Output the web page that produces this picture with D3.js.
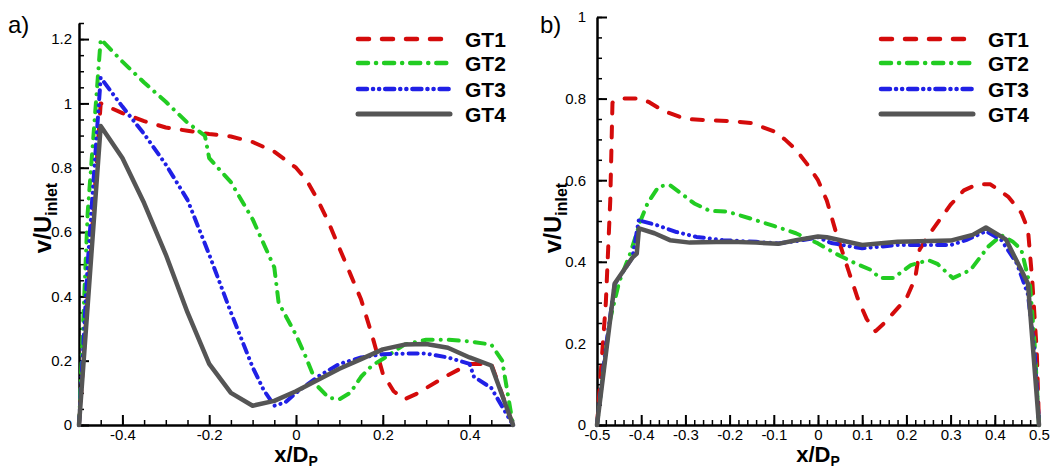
<!DOCTYPE html>
<html><head><meta charset="utf-8">
<script src="https://cdn.jsdelivr.net/npm/d3@7"></script>
<style>body{margin:0;background:#fff} svg{display:block} text{font-family:"Liberation Sans",Arial,sans-serif;fill:#000}</style>
</head><body><svg id="c" width="1057" height="468"></svg>
<script>
// ---------- data ----------
const seriesNames = ["GT1", "GT2", "GT3", "GT4"];
const panelLabels = ["a)", "b)"];

const xTicksA = [-0.4, -0.2, 0, 0.2, 0.4];
const yTicksA = [0, 0.2, 0.4, 0.6, 0.8, 1, 1.2];
const xTicksB = [-0.5, -0.4, -0.3, -0.2, -0.1, 0, 0.1, 0.2, 0.3, 0.4, 0.5];
const yTicksB = [0, 0.2, 0.4, 0.6, 0.8, 1];

// panel a  [x/Dp, v/Uinlet]
const a_GT1 = [[-0.5,0],[-0.45,1.0],[-0.4,0.97],[-0.35,0.945],[-0.3,0.925],[-0.25,0.915],[-0.2,0.905],[-0.15,0.897],[-0.1,0.88],[-0.05,0.85],[0,0.80],[0.025,0.76],[0.05,0.70],[0.075,0.63],[0.1,0.55],[0.125,0.47],[0.15,0.39],[0.175,0.28],[0.2,0.16],[0.225,0.105],[0.25,0.08],[0.275,0.095],[0.3,0.115],[0.35,0.155],[0.4,0.19],[0.45,0.19],[0.5,0]];
const a_GT2 = [[-0.5,0],[-0.48,0.66],[-0.45,1.2],[-0.4,1.13],[-0.35,1.065],[-0.3,1.005],[-0.25,0.94],[-0.21,0.9],[-0.2,0.83],[-0.15,0.755],[-0.1,0.64],[-0.05,0.49],[-0.04,0.38],[0,0.28],[0.02,0.22],[0.05,0.12],[0.075,0.085],[0.1,0.08],[0.125,0.1],[0.15,0.15],[0.175,0.185],[0.2,0.205],[0.25,0.25],[0.3,0.265],[0.35,0.265],[0.4,0.26],[0.45,0.25],[0.475,0.2],[0.5,0]];
const a_GT3 = [[-0.5,0],[-0.48,0.5],[-0.45,1.08],[-0.4,0.99],[-0.35,0.905],[-0.3,0.81],[-0.25,0.70],[-0.2,0.53],[-0.15,0.35],[-0.1,0.18],[-0.075,0.11],[-0.05,0.06],[-0.025,0.07],[0,0.10],[0.05,0.15],[0.1,0.19],[0.15,0.21],[0.2,0.22],[0.25,0.222],[0.3,0.222],[0.35,0.21],[0.4,0.19],[0.41,0.15],[0.45,0.115],[0.5,0]];
const a_GT4 = [[-0.5,0],[-0.45,0.93],[-0.4,0.83],[-0.35,0.69],[-0.3,0.53],[-0.25,0.35],[-0.2,0.19],[-0.15,0.10],[-0.1,0.06],[-0.05,0.075],[0,0.105],[0.05,0.14],[0.1,0.175],[0.15,0.205],[0.2,0.235],[0.25,0.25],[0.3,0.252],[0.35,0.24],[0.4,0.21],[0.45,0.185],[0.5,0]];

// panel b
const b_GT1 = [[-0.5,0],[-0.49,0.15],[-0.48,0.3],[-0.47,0.55],[-0.465,0.79],[-0.45,0.80],[-0.42,0.80],[-0.4,0.80],[-0.38,0.79],[-0.35,0.77],[-0.3,0.75],[-0.25,0.747],[-0.2,0.745],[-0.15,0.74],[-0.1,0.72],[-0.075,0.70],[-0.05,0.675],[-0.025,0.64],[0,0.60],[0.02,0.55],[0.04,0.475],[0.07,0.375],[0.09,0.31],[0.11,0.26],[0.13,0.23],[0.15,0.25],[0.2,0.31],[0.22,0.36],[0.23,0.43],[0.25,0.465],[0.3,0.54],[0.33,0.575],[0.36,0.59],[0.39,0.59],[0.43,0.56],[0.46,0.52],[0.475,0.48],[0.485,0.35],[0.495,0.18],[0.5,0]];
const b_GT2 = [[-0.5,0],[-0.485,0.14],[-0.47,0.26],[-0.45,0.35],[-0.425,0.42],[-0.4,0.505],[-0.385,0.545],[-0.36,0.585],[-0.335,0.588],[-0.31,0.568],[-0.28,0.543],[-0.245,0.525],[-0.205,0.523],[-0.15,0.505],[-0.1,0.488],[-0.05,0.47],[0,0.445],[0.04,0.42],[0.085,0.396],[0.12,0.38],[0.14,0.36],[0.17,0.36],[0.21,0.392],[0.25,0.404],[0.27,0.395],[0.305,0.36],[0.345,0.38],[0.385,0.437],[0.415,0.465],[0.44,0.45],[0.46,0.43],[0.48,0.34],[0.49,0.2],[0.5,0]];
const b_GT3 = [[-0.5,0],[-0.48,0.19],[-0.46,0.345],[-0.42,0.41],[-0.405,0.505],[-0.4,0.5],[-0.365,0.49],[-0.32,0.473],[-0.275,0.461],[-0.215,0.453],[-0.14,0.449],[-0.09,0.445],[-0.035,0.453],[0,0.46],[0.03,0.446],[0.1,0.433],[0.18,0.441],[0.3,0.441],[0.335,0.453],[0.38,0.475],[0.415,0.453],[0.45,0.396],[0.475,0.32],[0.49,0.18],[0.5,0]];
const b_GT4 = [[-0.5,0],[-0.46,0.347],[-0.42,0.41],[-0.41,0.42],[-0.405,0.482],[-0.37,0.47],[-0.335,0.453],[-0.29,0.447],[-0.2,0.449],[-0.14,0.447],[-0.09,0.444],[-0.05,0.453],[0,0.462],[0.02,0.46],[0.1,0.441],[0.18,0.449],[0.3,0.452],[0.35,0.466],[0.38,0.484],[0.425,0.455],[0.475,0.347],[0.5,0]];

// ---------- styles ----------
const styles = {
  GT1: {color: "#d40b0b", dash: "11,13", width: 4},
  GT2: {color: "#22cc22", dash: "10,8,0.1,8", width: 4},
  GT3: {color: "#2020e6", dash: "9,6,0.1,6,0.1,6", width: 4},
  GT4: {color: "#555555", dash: null, width: 4.5}
};

const svg = d3.select("#c");
const fmt = d => String(+(+d).toFixed(2));

const panels = [
  {label: panelLabels[0], data: [a_GT1, a_GT2, a_GT3, a_GT4],
   xr: [79, 513], yDom: [0, 1.25], yr: [425, 23],
   xMajor: xTicksA, xMinor: d3.range(-50, 51, 5).map(v => v / 100),
   yMajor: yTicksA, yMinor: d3.range(0, 126, 5).map(v => v / 100),
   legX: 358, labelX: 8, yTitleX: 51, yPad: 7},
  {label: panelLabels[1], data: [b_GT1, b_GT2, b_GT3, b_GT4],
   xr: [597, 1039], yDom: [0, 1], yr: [425, 17],
   xMajor: xTicksB, xMinor: d3.range(-50, 51, 2).map(v => v / 100),
   yMajor: yTicksB, yMinor: d3.range(0, 101, 5).map(v => v / 100),
   legX: 881, labelX: 540, yTitleX: 561, yPad: 11}
];

panels.forEach(p => {
  const x = d3.scaleLinear().domain([-0.5, 0.5]).range(p.xr);
  const y = d3.scaleLinear().domain(p.yDom).range(p.yr);
  const g = svg.append("g");

  // minor ticks
  g.append("g").attr("transform", `translate(0,${p.yr[0]})`)
    .call(d3.axisBottom(x).tickValues(p.xMinor).tickSizeInner(-5).tickSizeOuter(0).tickFormat(""))
    .call(s => { s.select(".domain").remove(); s.selectAll("line").attr("stroke-width", 1.5); });
  g.append("g").attr("transform", `translate(${p.xr[0]},0)`)
    .call(d3.axisLeft(y).tickValues(p.yMinor).tickSizeInner(-5).tickSizeOuter(0).tickFormat(""))
    .call(s => { s.select(".domain").remove(); s.selectAll("line").attr("stroke-width", 1.5); });

  // major ticks + labels
  g.append("g").attr("transform", `translate(0,${p.yr[0]})`)
    .call(d3.axisBottom(x).tickValues(p.xMajor).tickSizeInner(-10).tickSizeOuter(0).tickPadding(4).tickFormat(fmt))
    .call(s => {
      s.select(".domain").attr("stroke-width", 2.5);
      s.selectAll("line").attr("stroke-width", 2);
      s.selectAll("text").attr("font-size", 15).attr("font-family", '"Liberation Sans",Arial,sans-serif').attr("fill", "#000");
    });
  g.append("g").attr("transform", `translate(${p.xr[0]},0)`)
    .call(d3.axisLeft(y).tickValues(p.yMajor).tickSizeInner(-10).tickSizeOuter(0).tickPadding(p.yPad).tickFormat(fmt))
    .call(s => {
      s.select(".domain").attr("stroke-width", 2.5);
      s.selectAll("line").attr("stroke-width", 2);
      s.selectAll("text").attr("font-size", 15).attr("font-family", '"Liberation Sans",Arial,sans-serif').attr("fill", "#000");
    });

  // lines
  const line = d3.line().x(d => x(d[0])).y(d => y(d[1]));
  p.data.forEach((d, i) => {
    const st = styles[seriesNames[i]];
    g.append("path").datum(d).attr("d", line)
      .attr("fill", "none").attr("stroke", st.color).attr("stroke-width", st.width)
      .attr("stroke-linecap", "round").attr("stroke-linejoin", "round")
      .attr("stroke-dasharray", st.dash);
  });

  // legend
  const legY = [39, 63, 89, 114];
  seriesNames.forEach((n, i) => {
    const st = styles[n];
    g.append("line").attr("x1", p.legX).attr("x2", p.legX + 92)
      .attr("y1", legY[i]).attr("y2", legY[i])
      .attr("stroke", st.color).attr("stroke-width", st.width + 0.5)
      .attr("stroke-linecap", "round").attr("stroke-dasharray", st.dash);
    g.append("text").attr("x", p.legX + 107).attr("y", legY[i] + 7.5)
      .attr("font-size", 21).attr("font-weight", "bold").text(n);
  });

  // panel label
  g.append("text").attr("x", p.labelX).attr("y", 33).attr("font-size", 24).text(p.label);

  // x title
  const xt = g.append("text").attr("x", (p.xr[0] + p.xr[1]) / 2).attr("y", 462)
    .attr("text-anchor", "middle").attr("font-size", 22).attr("font-weight", "bold");
  xt.append("tspan").text("x/D");
  xt.append("tspan").attr("font-size", 14).attr("dy", 4).text("P");

  // y title
  const yt = g.append("text").attr("transform", `translate(${p.yTitleX},218) rotate(-90)`)
    .attr("text-anchor", "middle").attr("font-size", 24).attr("font-weight", "bold");
  yt.append("tspan").text("v/U");
  yt.append("tspan").attr("font-size", 16).attr("dy", 6).text("inlet");
});
</script></body></html>
